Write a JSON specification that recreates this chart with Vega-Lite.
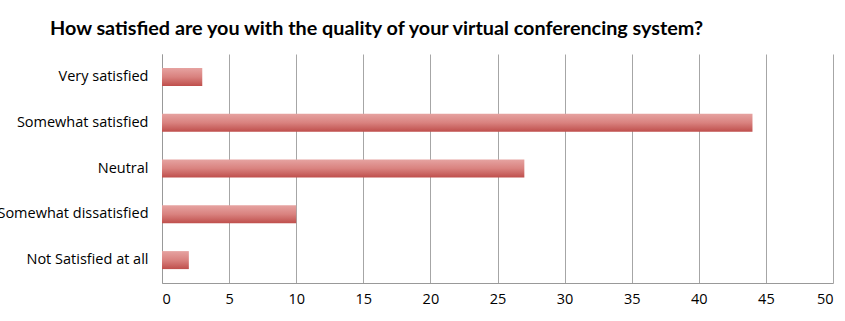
{
  "$schema": "https://vega.github.io/schema/vega-lite/v6.json",
  "autosize": {"type": "none"},
  "padding": {"left": 162, "top": 54, "right": 12, "bottom": 38},
  "width": 671,
  "height": 229,
  "background": "white",
  "title": {
    "text": "How satisfied are you with the quality of your virtual conferencing system?",
    "anchor": "start",
    "frame": "group",
    "dx": -112,
    "offset": 15,
    "font": "Lato",
    "fontSize": 19.8,
    "fontWeight": "bold",
    "color": "#000000"
  },
  "data": {
    "values": [
      {"answer": "Very satisfied", "count": 3},
      {"answer": "Somewhat satisfied", "count": 44},
      {"answer": "Neutral", "count": 27},
      {"answer": "Somewhat dissatisfied", "count": 10},
      {"answer": "Not Satisfied at all", "count": 2}
    ]
  },
  "mark": {
    "type": "bar",
    "size": 18,
    "color": {
      "gradient": "linear",
      "x1": 0, "y1": 0, "x2": 0, "y2": 1,
      "stops": [
        {"offset": 0, "color": "#e6a3a1"},
        {"offset": 0.5, "color": "#d9827f"},
        {"offset": 1, "color": "#bf4f4c"}
      ]
    }
  },
  "encoding": {
    "y": {
      "field": "answer",
      "type": "nominal",
      "sort": null,
      "axis": {
        "title": null,
        "labelFont": "Open Sans",
        "labelFontSize": 14.5,
        "labelColor": "#000000",
        "labelPadding": 14,
        "labelLimit": 0,
        "ticks": false,
        "domainColor": "#999999",
        "grid": false
      }
    },
    "x": {
      "field": "count",
      "type": "quantitative",
      "scale": {"domain": [0, 50], "nice": false},
      "axis": {
        "title": null,
        "values": [0, 5, 10, 15, 20, 25, 30, 35, 40, 45, 50],
        "labelFont": "Open Sans",
        "labelFontSize": 14.5,
        "labelColor": "#000000",
        "labelPadding": 9,
        "ticks": false,
        "domainColor": "#999999",
        "grid": true,
        "gridColor": "#a6a6a6",
        "gridWidth": 1
      }
    }
  },
  "config": {
    "view": {"stroke": null}
  }
}
